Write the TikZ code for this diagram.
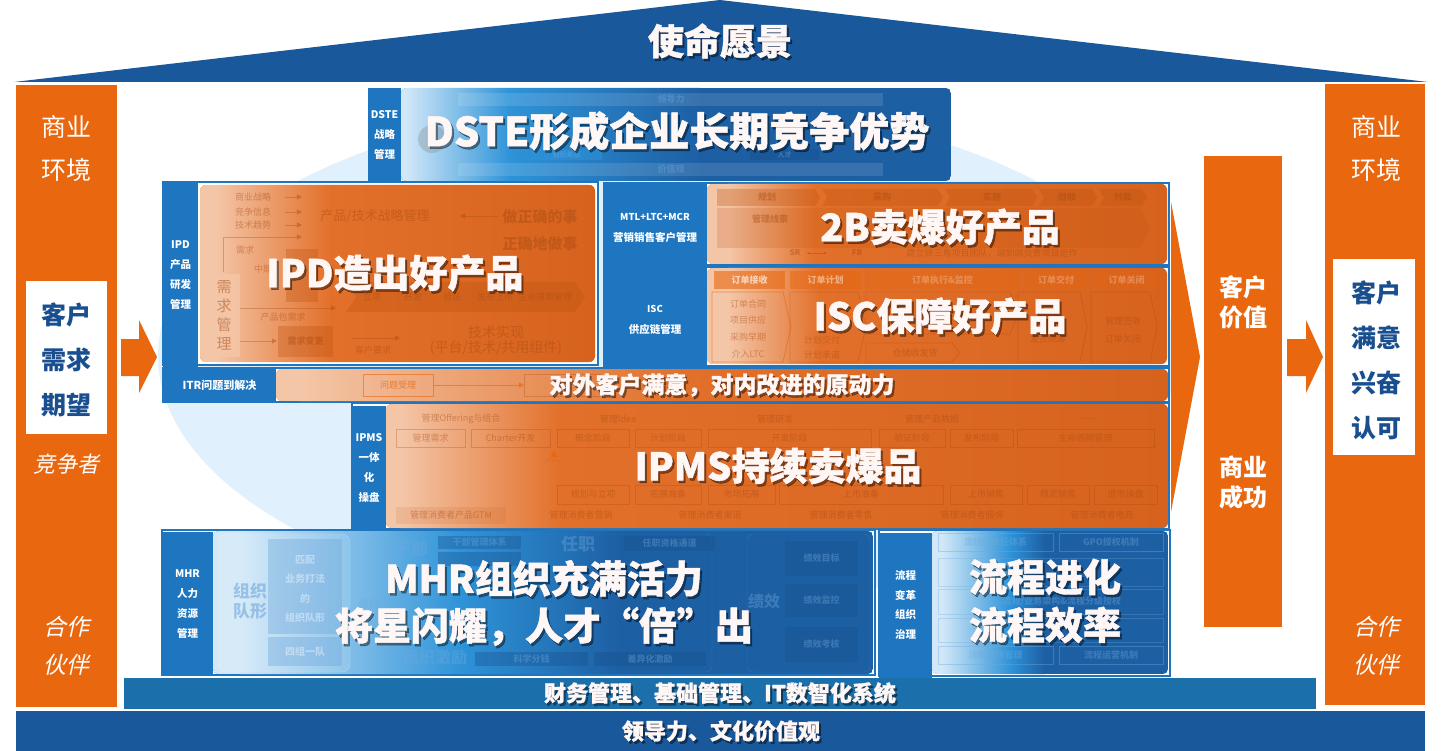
\documentclass[tikz,border=0pt]{standalone}
\usepackage{fontspec}
\setmainfont{Noto Sans CJK SC}
\newfontfamily\cjkit[FakeSlant=0.22]{Noto Sans CJK SC}
\newfontfamily\heavyfont[FakeBold=1.2]{Noto Sans CJK SC}
\usetikzlibrary{arrows.meta}
\definecolor{roof}{HTML}{19589B}
\definecolor{org}{HTML}{E8670F}
\definecolor{lbl}{HTML}{1E76C1}
\definecolor{fin}{HTML}{1B70AB}
\definecolor{ell}{HTML}{E0F0FC}
\definecolor{pk}{HTML}{F4C6A8}
\definecolor{ob}{HTML}{D6621E}
\definecolor{ob2}{HTML}{E2702A}
\definecolor{bla}{HTML}{D2E8F8}
\definecolor{blb}{HTML}{2E93D8}
\definecolor{blc}{HTML}{1D5FA3}
\definecolor{navy}{HTML}{1A4F8F}
\definecolor{tw}{HTML}{FFF6F6}
\definecolor{gtc}{HTML}{A84A10}
\definecolor{gfc}{HTML}{BE520F}
\definecolor{btc}{HTML}{6FA8DC}
\definecolor{bfc}{HTML}{174E8C}
\newcommand\oblock[6]{%
 \begin{scope}
 \clip[rounded corners=6pt] (#1,#2) rectangle (#3,#4);
 \fill[ob] (#1,#2) rectangle (#3,#4);
 \fill[pk] (#1,#2) rectangle (#5,#4);
 \shade[left color=pk, right color=ob2] (#5,#2) rectangle (#6,#4);
 \shade[left color=ob2, right color=ob] (#6,#2) rectangle (#3,#4);
 \end{scope}}
\newcommand\bblock[7]{%
 \begin{scope}
 \clip[rounded corners=5pt] (#1,#2) rectangle (#3,#4);
 \fill[blc] (#1,#2) rectangle (#3,#4);
 \fill[bla] (#1,#2) rectangle (#5,#4);
 \shade[left color=bla, right color=blb] (#5,#2) rectangle (#6,#4);
 \shade[left color=blb, right color=blc] (#6,#2) rectangle (#7,#4);
 \end{scope}}
\newcommand\ttl[6]{%
 \node[tsh,font=\heavyfont\bfseries\fontsize{#4}{#5}\selectfont] (#1s) at (#2+2,#3+2.5) {#6};
 \node[ttlst,font=\heavyfont\bfseries\fontsize{#4}{#5}\selectfont] (#1) at (#2,#3) {#6};}
\begin{document}
\begin{tikzpicture}[x=1pt,y=-1pt,
 tsh/.style={text=black, opacity=0.42, align=center, inner sep=0},
 ttlst/.style={text=tw, align=center, inner sep=0},
 labbox/.style={fill=lbl, text=white, align=center, inner sep=0, font=\bfseries\fontsize{10.5}{19.8}\selectfont},
 frame/.style={draw=lbl, line width=1.1pt, fill=white},
 gt/.style={text=gtc, opacity=0.45, inner sep=0, font=\fontsize{9}{10}\selectfont},
 gbox/.style={draw=gtc, opacity=0.3, line width=0.8pt},
 gfill/.style={fill=gfc, opacity=0.32},
 garrow/.style={draw=gtc, opacity=0.35, line width=0.8pt, -{Triangle[length=5pt,width=5pt]}},
 bt/.style={text=btc, opacity=0.38, inner sep=0, font=\bfseries\fontsize{9}{10}\selectfont},
 bfill/.style={fill=bfc, opacity=0.35},
 pill/.style={text=white, inner sep=0, font=\fontsize{25}{30}\selectfont},
 need/.style={text=navy, inner sep=0, font=\bfseries\fontsize{25}{30}\selectfont},
 itl/.style={text=white, inner sep=0, font=\cjkit\fontsize{23}{30}\selectfont}]
\useasboundingbox (0,0) rectangle (1443,751);
\fill[white] (0,0) rectangle (1443,751);
% background ellipse
\fill[ell] (667,356) ellipse [x radius=509, y radius=254];
% roof
\fill[roof] (14,82) -- (720,0) -- (1428,82) -- cycle;
\ttl{mission}{720}{41}{36}{40}{使命愿景}
% pillars
\fill[org] (16,85) rectangle (117,707);
\fill[white] (26,281) rectangle (107,434);
\fill[org] (1325,84) rectangle (1425,705);
\fill[white] (1333,259) rectangle (1415,455);
\fill[org] (1204,156) rectangle (1282,627);
\node[pill] (lb1) at (66,127) {商业};
\node[pill] (lb2) at (66,170) {环境};
\node[need] (ln1) at (66,315) {客户};
\node[need] (ln2) at (66,360) {需求};
\node[need] (ln3) at (66,405) {期望};
\node[itl,font=\cjkit\fontsize{22}{26}\selectfont] (lcomp) at (66,464) {竞争者};
\node[itl] (lp1) at (66,627) {合作};
\node[itl] (lp2) at (66,665) {伙伴};
\node[pill] (rb1) at (1376,127) {商业};
\node[pill] (rb2) at (1376,170) {环境};
\node[need] (rn1) at (1376,293) {客户};
\node[need] (rn2) at (1376,338) {满意};
\node[need] (rn3) at (1376,383) {兴奋};
\node[need] (rn4) at (1376,428) {认可};
\node[itl] (rp1) at (1376,627) {合作};
\node[itl] (rp2) at (1376,665) {伙伴};
\node[text=white, inner sep=0, align=center, font=\bfseries\fontsize{24}{30}\selectfont] (cv) at (1243,302) {客户\\价值};
\node[text=white, inner sep=0, align=center, font=\bfseries\fontsize{24}{30}\selectfont] (bs) at (1243,482) {商业\\成功};
% arrows
\fill[org] (121,339) -- (139,339) -- (139,320) -- (157,357) -- (139,393) -- (139,376) -- (121,376) -- cycle;
\fill[org] (1287,339) -- (1306,339) -- (1306,320) -- (1323,357) -- (1306,393) -- (1306,376) -- (1287,376) -- cycle;
\fill[org] (1171,202) -- (1200,357) -- (1171,512) -- cycle;
% bottom bars
\fill[fin] (124,678) rectangle (1316,709);
\fill[roof] (16,711) rectangle (1425,751);
\ttl{finance}{720}{693}{22}{26}{财务管理、基础管理、IT数智化系统}
\ttl{lead}{721}{731}{22}{26}{领导力、文化价值观}
% ===== DSTE =====
\node[labbox, minimum width=33, minimum height=93] (dstel) at (384.5,135) {DSTE\\战略\\管理};
\bblock{401}{88}{951}{181}{405}{510}{700}
\fill[fill=white, opacity=0.12] (458,93) rectangle (883,106);
\fill[fill=white, opacity=0.12] (458,163) rectangle (883,176);
\node[bt] (dg1) at (671,99.5) {领导力};
\node[bt] (dg2) at (671,169.5) {价值观};
\fill[gray, opacity=0.3] (432,139) circle [radius=14];
\fill[blb, opacity=0.5] (531,149) rectangle (602,160);
\node[bt,font=\bfseries\fontsize{7}{8}\selectfont] (dg3) at (566.5,154.5) {创新焦点};
\fill[bfc, opacity=0.4] (750,149) rectangle (819,160);
\node[bt,font=\bfseries\fontsize{7}{8}\selectfont] (dg4) at (784.5,154.5) {人才};
\ttl{dste}{677}{131}{40}{44}{DSTE形成企业长期竞争优势}
% ===== IPD =====
\draw[frame] (163,182) rectangle (598,365);
\node[labbox, minimum width=35, minimum height=183] (ipdl) at (180.5,275) {IPD\\产品\\研发\\管理};
\oblock{200}{185}{595}{362}{215}{330}
\node[gt] (i1) at (253,197) {商业战略};
\node[gt] (i2) at (253,212) {竞争信息};
\node[gt] (i3) at (253,225) {技术趋势};
\node[gt] (i4) at (245,250) {需求};
\node[gt] (i5) at (263,269) {中期};
\node[gt] (i6) at (283,317) {产品包需求};
\node[gt] (i7) at (373,350) {客户要求};
\draw[garrow] (285,197) -- (302,197);
\draw[garrow] (285,212) -- (302,212);
\draw[garrow] (285,225) -- (302,225);
\draw[garrow] (223,272) -- (223,237) -- (302,237);
\draw[garrow] (240,308) -- (336,308);
\draw[garrow] (240,341) -- (277,341);
\draw[garrow] (351,338) -- (400,338);
\draw[garrow] (498,216) -- (460,216);
\node[gt,font=\fontsize{13}{14}\selectfont] (i8) at (375,216) {产品/技术战略管理};
\node[gt,font=\bfseries\fontsize{15}{16}\selectfont] (i9) at (540,217) {做正确的事};
\node[gt,font=\bfseries\fontsize{15}{16}\selectfont] (i10) at (540,244) {正确地做事};
\node[gt,align=center,font=\fontsize{14}{15}\selectfont] (i11) at (496,340) {技术实现\\(平台/技术/共用组件)};
\fill[pk, opacity=0.8] (208,274) rectangle (240,357);
\node[text=gtc, opacity=0.5, inner sep=0, align=center, font=\fontsize{15}{19}\selectfont] (i12) at (224,315) {需\\求\\管\\理};
\fill[gfill] (286,249) rectangle (318,302);
\fill[gfill] (278,326) rectangle (333,357);
\node[gt,font=\bfseries\fontsize{9}{10}\selectfont] (i13) at (305.5,341.5) {需求变更};
\fill[gfill] (346,282) -- (575,282) -- (585,297) -- (575,312) -- (346,312) -- (356,297) -- cycle;
\node[gt] (i14) at (372,297) {立项};
\node[gt] (i15) at (413,297) {开发};
\node[gt] (i16) at (452,297) {验证};
\node[gt] (i17) at (495,297) {发布上市};
\node[gt] (i18) at (545,297) {生命周期管理};
\ttl{ipd}{395}{273}{38}{42}{IPD造出好产品}
% ===== MTL =====
\draw[frame] (604,183) rectangle (1169,265);
\node[labbox, minimum width=103, minimum height=82] (mtll) at (655.5,224) {};
\node[text=white, inner sep=0, font=\bfseries\fontsize{9.5}{11}\selectfont] (mtlt1) at (655,217) {MTL+LTC+MCR};
\node[text=white, inner sep=0, font=\bfseries\fontsize{10.5}{12}\selectfont] (mtlt2) at (655,237) {营销销售客户管理};
\oblock{707}{184}{1167}{264}{728}{815}
\fill[gfill] (717,189) -- (815,189) -- (820,197.5) -- (815,206) -- (717,206) -- cycle;
\fill[gfill] (822,189) -- (938,189) -- (943,197.5) -- (938,206) -- (822,206) -- (827,197.5) -- cycle;
\fill[gfill] (945,189) -- (1032,189) -- (1037,197.5) -- (1032,206) -- (945,206) -- (950,197.5) -- cycle;
\fill[gfill] (1039,189) -- (1092,189) -- (1097,197.5) -- (1092,206) -- (1039,206) -- (1044,197.5) -- cycle;
\fill[gfill] (1099,189) -- (1142,189) -- (1147,197.5) -- (1142,206) -- (1099,206) -- (1104,197.5) -- cycle;
\node[gt,font=\bfseries\fontsize{9}{10}\selectfont] (m1) at (767,197.5) {规划};
\node[gt,font=\bfseries\fontsize{9}{10}\selectfont] (m2) at (882,197.5) {采购};
\node[gt,font=\bfseries\fontsize{9}{10}\selectfont] (m3) at (992,197.5) {实施};
\node[gt,font=\bfseries\fontsize{9}{10}\selectfont] (m4) at (1067,197.5) {验收};
\node[gt,font=\bfseries\fontsize{9}{10}\selectfont] (m5) at (1123,197.5) {付款};
\fill[gfill, opacity=0.2] (717,208) -- (1140,208) -- (1150,228) -- (1140,248) -- (717,248) -- cycle;
\node[gt,font=\bfseries\fontsize{9}{10}\selectfont] (m6) at (770,219) {管理线索};
\node[gt,font=\bfseries\fontsize{8}{9}\selectfont] (m7) at (795,253) {SR};
\node[gt,font=\bfseries\fontsize{8}{9}\selectfont] (m8) at (857,253) {FR};
\draw[draw=gtc, opacity=0.4, {Stealth[length=3pt]}-{Stealth[length=3pt]}] (m7.east) ++(6,0) -- ++(20,0);
\node[gt] (m9) at (992,253) {建立铁三角项目团队，端到端负责项目运作};
\ttl{tob}{940}{227}{38}{42}{2B卖爆好产品}
% ===== ISC =====
\draw[frame] (604,267) rectangle (1169,366);
\node[labbox, minimum width=103, minimum height=98] (iscl) at (655.5,316.5) {};
\node[text=white, inner sep=0, font=\bfseries\fontsize{9.5}{11}\selectfont] (isct1) at (655,309) {ISC};
\node[text=white, inner sep=0, font=\bfseries\fontsize{10.5}{12}\selectfont] (isct2) at (655,329) {供应链管理};
\oblock{707}{268}{1167}{364}{728}{820}
\fill[fill=org, opacity=0.6] (714,271) rectangle (785,289);
\fill[fill=org, opacity=0.5] (790,271) rectangle (861,289);
\fill[fill=org, opacity=0.35] (865,271) rectangle (1020,289);
\fill[fill=org, opacity=0.3] (1024,271) rectangle (1088,289);
\fill[fill=org, opacity=0.3] (1091,271) rectangle (1162,289);
\node[text=white, opacity=0.65, inner sep=0, font=\bfseries\fontsize{9}{10}\selectfont] (s1) at (749.5,280) {订单接收};
\node[text=white, opacity=0.45, inner sep=0, font=\bfseries\fontsize{9}{10}\selectfont] (s2) at (825.5,280) {订单计划};
\node[text=white, opacity=0.25, inner sep=0, font=\bfseries\fontsize{9}{10}\selectfont] (s3) at (942.5,280) {订单执行\&监控};
\node[text=white, opacity=0.25, inner sep=0, font=\bfseries\fontsize{9}{10}\selectfont] (s4) at (1056,280) {订单交付};
\node[text=white, opacity=0.25, inner sep=0, font=\bfseries\fontsize{9}{10}\selectfont] (s5) at (1126.5,280) {订单关闭};
\draw[draw=org, opacity=0.6, line width=0.8pt] (712,292) -- (783,292) -- (791,327) -- (783,362) -- (712,362) -- cycle;
\draw[gbox] (790,292) -- (858,292) -- (866,327) -- (858,362) -- (790,362) -- cycle;
\draw[gbox] (866,292) -- (1010,292) -- (1018,313) -- (1010,334) -- (866,334) -- cycle;
\draw[gbox] (866,343) -- (952,343) -- (960,352.5) -- (952,362) -- (866,362) -- cycle;
\draw[gbox] (1018,292) -- (1080,292) -- (1087,327) -- (1080,362) -- (1018,362) -- cycle;
\draw[gbox] (1091,292) -- (1150,292) -- (1157,327) -- (1150,362) -- (1091,362) -- cycle;
\node[gt] (s6) at (748,304) {订单合同};
\node[gt] (s7) at (748,320) {项目供应};
\node[gt] (s8) at (748,337) {采购早期};
\node[gt] (s9) at (748,354) {介入LTC};
\node[gt] (s10) at (822,340) {计划交付};
\node[gt] (s11) at (822,355) {计划承诺};
\node[gt] (s12) at (915,353) {仓储收发货};
\node[gt] (s13) at (1048,339) {发货统筹};
\node[gt] (s14) at (1123,321) {管理签收};
\node[gt] (s15) at (1123,339) {订单关闭};
\ttl{isc}{940}{316}{38}{42}{ISC保障好产品}
% ===== ITR =====
\draw[frame] (163,368) rectangle (1169,402);
\node[labbox, minimum width=113, minimum height=33, font=\bfseries\fontsize{11}{12}\selectfont] (itrl) at (219.5,385) {ITR问题到解决};
\oblock{276}{369}{1168}{401}{300}{680}
\draw[gbox, draw=org, opacity=0.6] (363,374) rectangle (433,396);
\node[gt, text=org, opacity=0.7] (t1) at (398,385) {问题受理};
\draw[garrow, draw=org, opacity=0.6] (433,385) -- (524,385);
\draw[gbox] (524,374) rectangle (600,396);
\ttl{itr}{722}{385}{23}{26}{对外客户满意，对内改进的原动力}
% ===== IPMS =====
\draw[frame] (352,403) rectangle (1169,529);
\node[labbox, minimum width=34, minimum height=125] (ipmsl) at (369,468) {IPMS\\一体\\化\\操盘};
\oblock{386}{404}{1168}{528}{400}{560}
\node[gt] (p1) at (461,419) {管理Offering与组合};
\node[gt] (p2) at (618,419) {管理Idea};
\node[gt] (p3) at (775,419) {管理研发};
\node[gt] (p4) at (932,419) {管理产品数据};
\node[gt] (p5) at (1089,419) {......};
\draw[gbox] (396,429) rectangle (465,447); \node[gt] (p6) at (430.5,438) {管理需求};
\draw[gbox] (471,429) rectangle (550,447); \node[gt] (p7) at (510.5,438) {Charter开发};
\draw[gbox] (557,429) rectangle (629,447); \node[gt] (p8) at (593,438) {概念阶段};
\draw[gbox] (635,429) rectangle (701,447); \node[gt] (p9) at (668,438) {计划阶段};
\draw[gbox] (708,429) rectangle (871,447); \node[gt] (p10) at (789.5,438) {开发阶段};
\draw[gbox] (879,429) rectangle (945,447); \node[gt] (p11) at (912,438) {验证阶段};
\draw[gbox] (950,429) rectangle (1013,447); \node[gt] (p12) at (981.5,438) {发布阶段};
\draw[gbox] (1017,429) rectangle (1154,447); \node[gt] (p13) at (1085.5,438) {生命周期管理};
\draw[gbox] (557,485) rectangle (629,504); \node[gt] (p14) at (593,494.5) {规划与立项};
\draw[gbox] (635,485) rectangle (701,504); \node[gt] (p15) at (668,494.5) {拓展准备};
\draw[gbox] (708,485) rectangle (775,504); \node[gt] (p16) at (741.5,494.5) {市场拓展};
\draw[gbox] (779,485) rectangle (943,504); \node[gt] (p17) at (861,494.5) {上市准备};
\draw[gbox] (950,485) rectangle (1022,504); \node[gt] (p18) at (986,494.5) {上市销售};
\draw[gbox] (1027,485) rectangle (1089,504); \node[gt] (p19) at (1058,494.5) {稳定销售};
\draw[gbox] (1094,485) rectangle (1157,504); \node[gt] (p20) at (1125.5,494.5) {退市操盘};
\fill[fill=gfc, opacity=0.12] (396,507) rectangle (506,524);
\node[gt] (p21) at (451,515) {管理消费者产品GTM};
\node[gt] (p22) at (581,515) {管理消费者营销};
\node[gt] (p23) at (710,515) {管理消费者渠道};
\node[gt] (p24) at (841,515) {管理消费者零售};
\node[gt] (p25) at (972,515) {管理消费者服务};
\node[gt] (p26) at (1102,515) {管理消费者电商};
\fill[org, opacity=0.8] (554,450) -- (550,457) -- (558,457) -- cycle;
\node[gt, text=org, opacity=0.9, font=\fontsize{5}{6}\selectfont] (p27) at (554,461) {Charter};
\ttl{ipms}{778}{466}{38}{42}{IPMS持续卖爆品}
% ===== MHR =====
\draw[frame] (162,530) rectangle (875,675);
\node[labbox, minimum width=51, minimum height=144] (mhrl) at (187.5,604) {MHR\\人力\\资源\\管理};
\bblock{213}{531}{873}{674}{240}{460}{620}
\draw[draw=white, fill=white, fill opacity=0.12, draw opacity=0.3, rounded corners=8pt] (218,534) rectangle (350,672);
\node[bt, text=btc, opacity=0.6, align=center, font=\bfseries\fontsize{17}{20}\selectfont] (h1) at (250,601) {组织\\队形};
\fill[fill=btc, opacity=0.4] (268,539) rectangle (342,634);
\fill[fill=btc, opacity=0.4] (268,637) rectangle (342,666);
\node[text=white, opacity=0.4, inner sep=0, align=center, font=\bfseries\fontsize{10}{19.5}\selectfont] (h2) at (305,589) {匹配\\业务打法\\的\\组织队形};
\node[text=white, opacity=0.4, inner sep=0, font=\bfseries\fontsize{10}{12}\selectfont] (h3) at (305,651.5) {四组一队};
\draw[draw=btc, opacity=0.25, rounded corners=6pt] (387,534) rectangle (712,672);
\draw[draw=btc, opacity=0.25, rounded corners=6pt] (747,534) rectangle (870,672);
\node[bt, font=\bfseries\fontsize{17}{18}\selectfont] (h4) at (411,549) {干部};
\fill[bfill] (438,536) rectangle (521,549); \node[bt] (h5) at (479.5,542.5) {干部管理体系};
\fill[bfill] (438,552) rectangle (521,566);
\node[bt, font=\bfseries\fontsize{17}{18}\selectfont] (h6) at (578,544) {任职};
\fill[bfill] (624,536) rectangle (715,551); \node[bt] (h7) at (669.5,543.5) {任职资格通道};
\node[bt, font=\bfseries\fontsize{16}{18}\selectfont] (h8) at (435,657) {组织激励};
\fill[bfill] (475,652) rectangle (588,666); \node[bt] (h9) at (531.5,659) {科学分钱};
\fill[bfill] (594,652) rectangle (706,666); \node[bt] (h10) at (650,659) {差异化激励};
\node[bt, font=\bfseries\fontsize{16}{18}\selectfont] (h11) at (764,601) {绩效};
\fill[bfill] (785,541) rectangle (858,576); \node[bt] (h12) at (821.5,558.5) {绩效目标};
\fill[bfill] (785,584) rectangle (858,617); \node[bt] (h13) at (821.5,600.5) {绩效监控};
\fill[bfill] (785,627) rectangle (858,662); \node[bt] (h14) at (821.5,644.5) {绩效考核};
\node[bt, font=\cjkit\bfseries\fontsize{11}{12}\selectfont] (h15) at (368,604) {协同};
\ttl{mhr}{544}{603}{38}{47}{MHR组织充满活力\\将星闪耀，人才“倍”出}
% ===== Process =====
\draw[frame] (879,530) rectangle (1170,676);
\node[labbox, minimum width=53, minimum height=145] (prol) at (905.5,605) {流程\\变革\\组织\\治理};
\bblock{932}{531}{1168}{674}{942}{1010}{1045}
\draw[draw=btc, opacity=0.4] (938,533) rectangle (1053,551); \node[bt] (f1) at (995.5,542) {流程的责任体系};
\draw[draw=btc, opacity=0.4] (1059,533) rectangle (1163,551); \node[bt] (f2) at (1111,542) {GPO授权机制};
\draw[draw=btc, opacity=0.3] (938,558) rectangle (1163,586);
\draw[draw=btc, opacity=0.3] (938,589) rectangle (1163,614);
\node[bt] (f3) at (1062,601.5) {流程/业务架构\&流程分级授权};
\draw[draw=btc, opacity=0.3] (938,618) rectangle (1163,642);
\draw[draw=btc, opacity=0.4] (938,646) rectangle (1053,664); \node[bt] (f4) at (995.5,655) {流程绩效管理};
\draw[draw=btc, opacity=0.4] (1059,646) rectangle (1163,664); \node[bt] (f5) at (1111,655) {流程运营机制};
\ttl{proc}{1045}{601}{38}{48}{流程进化\\流程效率}
\end{tikzpicture}
\end{document}
